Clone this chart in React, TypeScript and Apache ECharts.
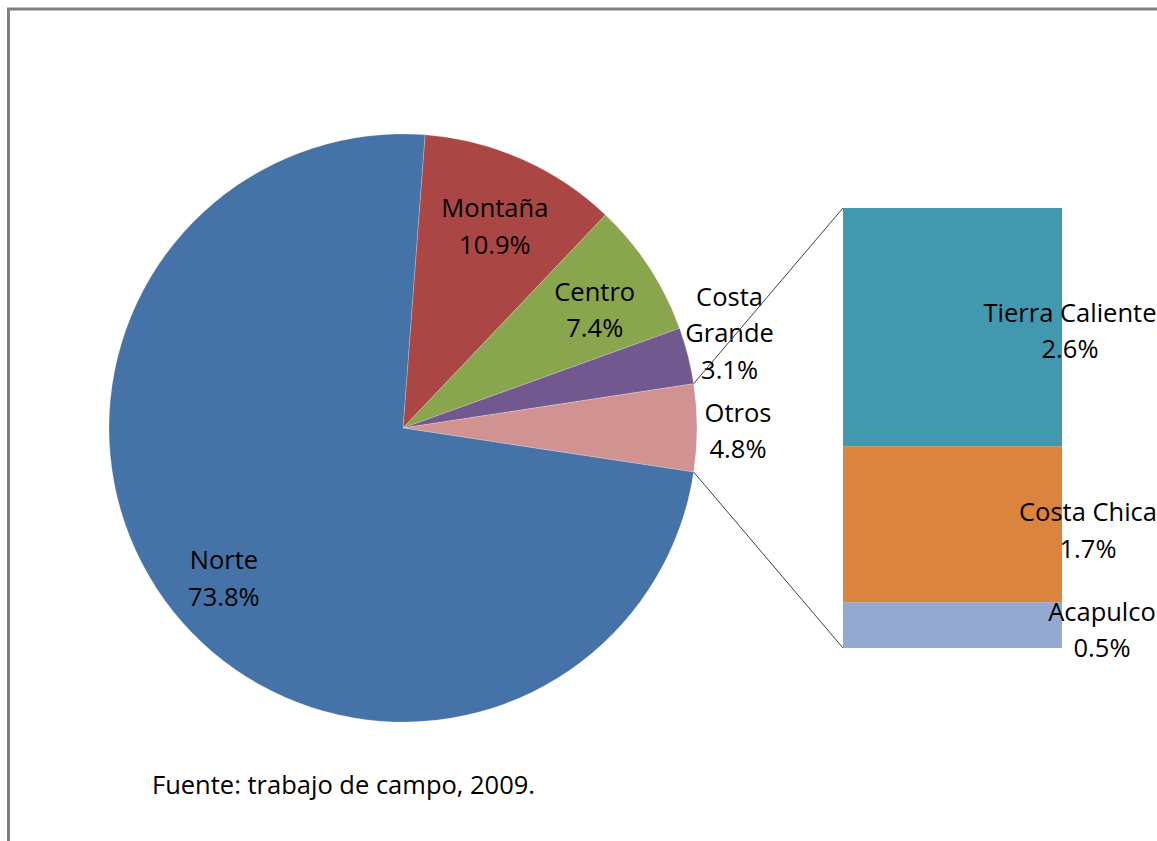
import React, { useEffect, useRef } from "react";
import * as echarts from "echarts";

// ---- Data ----
const pieNames = ["Montaña", "Centro", "Costa Grande", "Otros", "Norte"];
const pieValues = [10.9, 7.4, 3.1, 4.8, 73.8];
const pieColors = ["#AA4643", "#89A54E", "#71588F", "#D19392", "#4572A7"];

const barNames = ["Tierra Caliente", "Costa Chica", "Acapulco"];
const barValues = [2.6, 1.7, 0.5];
const barColors = ["#4198AF", "#DB843D", "#93A9CF"];

const sourceText = "Fuente: trabajo de campo, 2009.";

// ---- Layout / style constants ----
const CX = 403;
const CY = 428;
const R = 294;
const START_ANGLE = 85.7;
const GRID = { left: 843, top: 208, width: 219, height: 440 };
const FONT = "Open Sans";
const FS = 25.5;
const LH = 36.5;
// label placement relative to each bar segment (pixels from segment's top-left)
const barLabelPos: [number, number][] = [
  [227, 122],
  [245, 83],
  [259, 27],
];
// label placement for pie slices: [overlay radius, offset x, offset y]
const pieLabelPlace: Record<string, [number, number, number]> = {
  "Montaña": [452, -1, 7],
  "Centro": [452, 0, 6],
  "Norte": [452, 0, 7],
  "Costa Grande": [676, -4, -12],
  "Otros": [676, -6, 2],
};

export default function App() {
  const ref = useRef<HTMLDivElement>(null);
  useEffect(() => {
    document.body.style.margin = "0";
    const chart = echarts.init(ref.current!, null, { renderer: "svg" });

    const total = pieValues.reduce((a, b) => a + b, 0);
    const otrosIdx = pieNames.indexOf("Otros");
    const before = pieValues.slice(0, otrosIdx).reduce((a, b) => a + b, 0);
    const a1 = ((START_ANGLE - (360 * before) / total) * Math.PI) / 180;
    const a2 =
      ((START_ANGLE - (360 * (before + pieValues[otrosIdx])) / total) * Math.PI) / 180;
    const p1 = [CX + R * Math.cos(a1), CY - R * Math.sin(a1)];
    const p2 = [CX + R * Math.cos(a2), CY - R * Math.sin(a2)];

    const pieData = pieNames.map((n, i) => ({
      name: n,
      value: pieValues[i],
      itemStyle: { color: pieColors[i] },
    }));

    const labelStyle = {
      color: "#000",
      fontFamily: FONT,
      fontSize: FS,
      lineHeight: LH,
    };
    const pieFmt = (p: any) => `${String(p.name).replace(" ", "\n")}\n${p.value}%`;

    const overlays = pieNames.map((name) => {
      const [rad, ox, oy] = pieLabelPlace[name];
      return {
        type: "pie",
        center: [CX, CY],
        radius: [0, rad],
        startAngle: START_ANGLE,
        silent: true,
        z: 3,
        avoidLabelOverlap: false,
        labelLayout: { hideOverlap: false },
        emphasis: { disabled: true },
        labelLine: { show: false },
        data: pieNames.map((n, i) => ({
          name: n,
          value: pieValues[i],
          itemStyle: { color: "rgba(0,0,0,0)" },
          label: { show: n === name },
        })),
        label: {
          position: "inside",
          formatter: pieFmt,
          offset: [ox, oy],
          ...labelStyle,
        },
      };
    });

    const stackOrder = barNames.map((_, i) => i).reverse();
    const barSeries = stackOrder.map((i) => ({
      type: "bar",
      name: barNames[i],
      stack: "otros",
      barWidth: "100%",
      xAxisIndex: 0,
      yAxisIndex: 0,
      data: [barValues[i]],
      itemStyle: { color: barColors[i] },
      silent: true,
      label: {
        show: true,
        position: barLabelPos[i],
        align: "center",
        verticalAlign: "middle",
        formatter: (p: any) => `${p.seriesName}\n${p.value}%`,
        ...labelStyle,
      },
    }));

    chart.setOption({
      animation: false,
      backgroundColor: "#fff",
      grid: { ...GRID, containLabel: false },
      xAxis: { type: "category", data: ["Otros"], show: false },
      yAxis: {
        type: "value",
        min: 0,
        max: barValues.reduce((a, b) => a + b, 0),
        show: false,
      },
      series: [
        {
          type: "pie",
          center: [CX, CY],
          radius: [0, R],
          startAngle: START_ANGLE,
          silent: true,
          emphasis: { disabled: true },
          label: { show: false },
          labelLine: { show: false },
          itemStyle: { borderColor: "rgba(255,255,255,0.35)", borderWidth: 0.6 },
          data: pieData,
        },
        ...overlays,
        ...barSeries,
      ],
      graphic: [
        {
          type: "rect",
          shape: { x: 8.5, y: 9, width: 1200, height: 900 },
          style: { fill: "none", stroke: "#808080", lineWidth: 3 },
          silent: true,
          z: 10,
        },
        {
          type: "line",
          shape: { x1: p1[0], y1: p1[1], x2: GRID.left, y2: GRID.top },
          style: { stroke: "#404040", lineWidth: 1 },
          z: 10,
        },
        {
          type: "line",
          shape: { x1: p2[0], y1: p2[1], x2: GRID.left, y2: GRID.top + GRID.height },
          style: { stroke: "#404040", lineWidth: 1 },
          z: 10,
        },
        {
          type: "text",
          left: 152,
          top: 771,
          style: {
            text: sourceText,
            fill: "#000",
            font: `${FS}px "${FONT}"`,
          },
        },
      ],
    });
    return () => chart.dispose();
  }, []);
  return <div ref={ref} style={{ width: 1157, height: 841 }} />;
}
